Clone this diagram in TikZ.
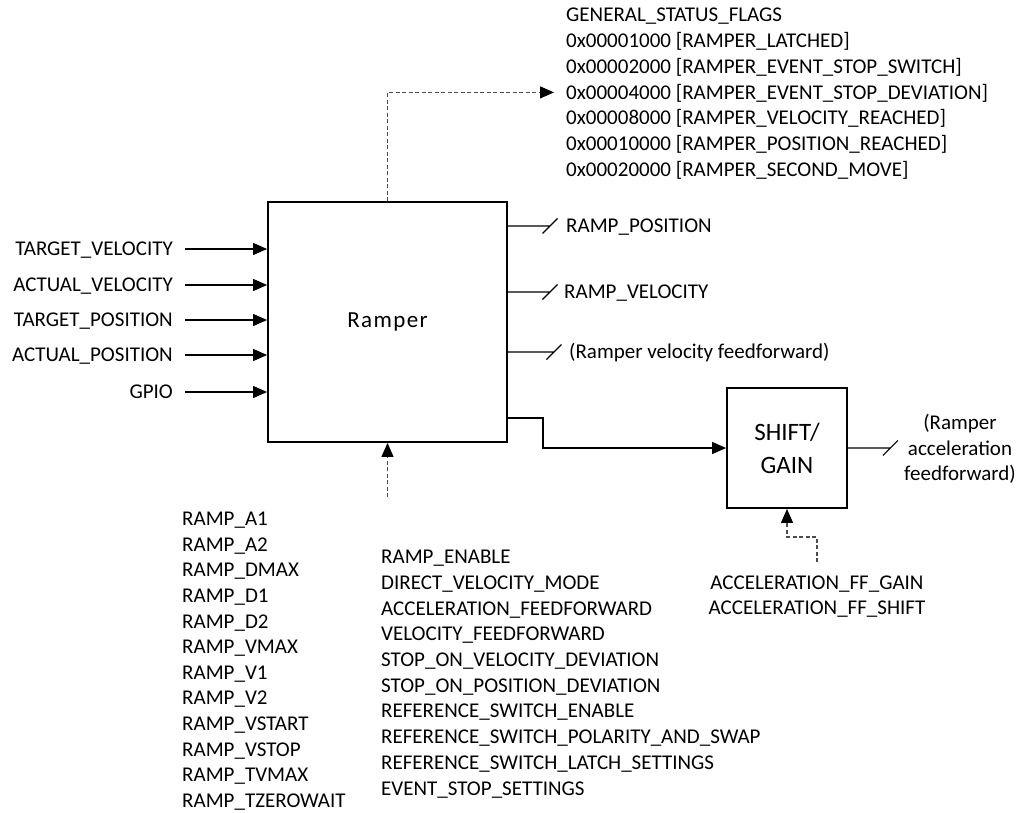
\documentclass[tikz,border=0pt]{standalone}
\usepackage{fontspec}
\setmainfont{Carlito}
\usetikzlibrary{arrows.meta}
\begin{document}
\begin{tikzpicture}[x=1pt,y=-1pt,
  lbl/.style={font=\fontsize{21}{25.6}\selectfont, inner sep=0pt, text height=13.5pt, text depth=0pt},
  blk/.style={draw, line width=1.8pt, inner sep=0pt},
  wire/.style={line width=1.1pt},
  tip/.style={-{Triangle[length=14pt,width=12pt,color=black]}},
  arr/.style={wire, tip},
  dsh/.style={line width=1.1pt, draw=black!70, dash pattern=on 4pt off 2.5pt},
]
\useasboundingbox (0,0) rectangle (1019,812);

% main blocks
\node[blk, minimum width=239pt, minimum height=240pt,
      font=\fontsize{23}{28}\selectfont\addfontfeature{LetterSpace=6}] (ramper) at (387.5,322) {Ramper};
\node[blk, minimum width=120pt, minimum height=120pt, align=center,
      font=\fontsize{25}{33}\selectfont] (shift) at (787,448) {SHIFT/\\GAIN};

% inputs
\foreach \n/\t/\y in {i1/TARGET\_VELOCITY/249, i2/ACTUAL\_VELOCITY/285, i3/TARGET\_POSITION/320, i4/ACTUAL\_POSITION/355, i5/GPIO/392}{
  \node[lbl, anchor=east] (\n) at (173,\y) {\t};
  \draw[arr] ([xshift=12pt]\n.east) -- (\n.east -| ramper.west);
}

% status flags
\foreach \t [count=\i] in {GENERAL\_STATUS\_FLAGS, 0x00001000 [RAMPER\_LATCHED], 0x00002000 [RAMPER\_EVENT\_STOP\_SWITCH], 0x00004000 [RAMPER\_EVENT\_STOP\_DEVIATION], 0x00008000 [RAMPER\_VELOCITY\_REACHED], 0x00010000 [RAMPER\_POSITION\_REACHED], 0x00020000 [RAMPER\_SECOND\_MOVE]}{
  \node[lbl, anchor=west] (s\i) at (566,{15+25.8*(\i-1)}) {\t};
}
\draw[dsh, tip] (ramper.north) -- (ramper.north |- s4.west) -- ([xshift=-12pt]s4.west);

% outputs
\node[lbl, anchor=west] (o1) at (566,226) {RAMP\_POSITION};
\node[lbl, anchor=west] (o2) at (564,292) {RAMP\_VELOCITY};
\node[lbl, anchor=west] (o3) at (569,352) {(Ramper velocity feedforward)};
\draw[wire] (ramper.east |- o1.west) -- ([xshift=-16pt]o1.west) ++(-7.5,7.5) -- ++(15,-15);
\draw[wire] (ramper.east |- o2.west) -- ([xshift=-14pt]o2.west) ++(-7.5,7.5) -- ++(15,-15);
\draw[wire] (ramper.east |- o3.west) -- ([xshift=-15pt]o3.west) ++(-7.5,7.5) -- ++(15,-15);

\coordinate (rb) at (507,418);
\coordinate (bend) at (543,418);
\draw[arr] (rb) -- (bend) |- (shift.west);

\node[font=\fontsize{21}{25.6}\selectfont, inner sep=0pt, align=center] (accout) at (960,449) {(Ramper\\acceleration\\feedforward)};
\draw[wire] (shift.east) -- ++(42.5,0) ++(-7.5,7.5) -- ++(15,-15);

% bottom lists
\foreach \t [count=\i] in {RAMP\_A1, RAMP\_A2, RAMP\_DMAX, RAMP\_D1, RAMP\_D2, RAMP\_VMAX, RAMP\_V1, RAMP\_V2, RAMP\_VSTART, RAMP\_VSTOP, RAMP\_TVMAX, RAMP\_TZEROWAIT}{
  \node[lbl, anchor=west] (p\i) at (182,{519+25.6*(\i-1)}) {\t};
}
\foreach \t [count=\i] in {RAMP\_ENABLE, DIRECT\_VELOCITY\_MODE, ACCELERATION\_FEEDFORWARD, VELOCITY\_FEEDFORWARD, STOP\_ON\_VELOCITY\_DEVIATION, STOP\_ON\_POSITION\_DEVIATION, REFERENCE\_SWITCH\_ENABLE, REFERENCE\_SWITCH\_POLARITY\_AND\_SWAP, REFERENCE\_SWITCH\_LATCH\_SETTINGS, EVENT\_STOP\_SETTINGS}{
  \node[lbl, anchor=west] (m\i) at (381,{557+25.7*(\i-1)}) {\t};
}
\coordinate (rin) at (387.5,497);
\draw[dsh, tip] (rin) -- (ramper.south);

% shift/gain parameters
\node[lbl] (g1) at (817,583) {ACCELERATION\_FF\_GAIN};
\node[lbl] (g2) at (817,608) {ACCELERATION\_FF\_SHIFT};
\coordinate (sin) at (817,562);
\coordinate (sbend) at (817,537);
\draw[dsh, tip] (sin) -- (sbend) -| (shift.south);
\end{tikzpicture}
\end{document}
